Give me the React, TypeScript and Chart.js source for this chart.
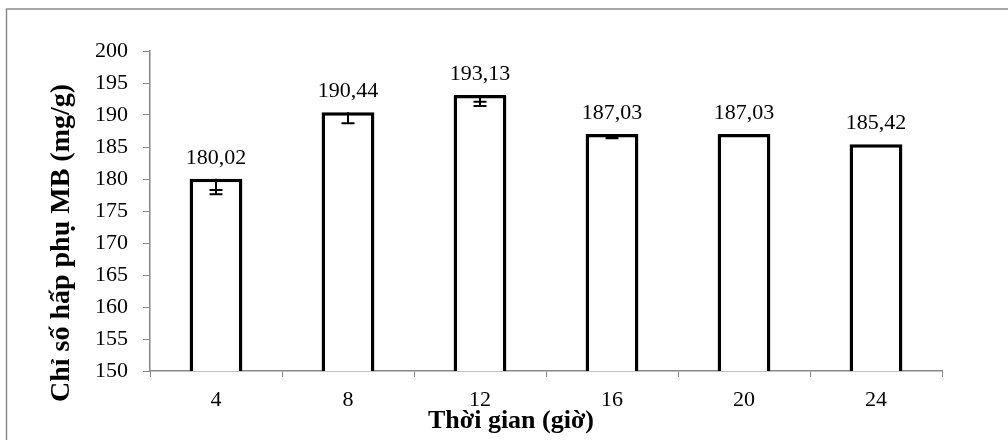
import React, { useEffect, useRef } from "react";
import { Chart, registerables } from "chart.js";

Chart.register(...registerables);

const categories = ["4", "8", "12", "16", "20", "24"];
const values = [180.02, 190.44, 193.13, 187.03, 187.03, 185.42];
const valueLabels = ["180,02", "190,44", "193,13", "187,03", "187,03", "185,42"];
const errInner = [1.74, 0, 1.05, 0.5, 0, 0];
const errOuter = [2.41, 1.74, 1.73, 0.67, 0, 0];
const yMin = 150;
const yMax = 200;
const yStep = 5;
const yTitle = "Chỉ số hấp phụ MB (mg/g)";
const xTitle = "Thời gian (giờ)";

const FONT = "'Liberation Serif', 'Times New Roman', serif";

const decorPlugin = {
  id: "decor",
  beforeDraw(chart: any) {
    const ctx = chart.ctx;
    ctx.save();
    ctx.fillStyle = "#ffffff";
    ctx.fillRect(0, 0, chart.width, chart.height);
    ctx.strokeStyle = "#8a8a8a";
    ctx.lineWidth = 1.5;
    ctx.strokeRect(6.5, 9, chart.width + 50, chart.height + 50);
    ctx.restore();
  },
  afterDatasetsDraw(chart: any) {
    const ctx = chart.ctx;
    const meta = chart.getDatasetMeta(0);
    const y = chart.scales.y;
    ctx.save();
    // error bars
    ctx.strokeStyle = "#000";
    ctx.lineWidth = 2;
    meta.data.forEach((bar: any, i: number) => {
      const top = y.getPixelForValue(values[i]);
      const caps = [errInner[i], errOuter[i]].filter((e) => e > 0);
      if (!caps.length) return;
      const lowest = Math.max(...caps);
      const yLow = y.getPixelForValue(values[i] - lowest);
      ctx.beginPath();
      ctx.moveTo(bar.x, top);
      ctx.lineTo(bar.x, yLow);
      caps.forEach((e) => {
        const yy = y.getPixelForValue(values[i] - e);
        ctx.moveTo(bar.x - 6.5, yy);
        ctx.lineTo(bar.x + 6.5, yy);
      });
      ctx.stroke();
    });
    // value labels
    ctx.fillStyle = "#000";
    ctx.font = `22px ${FONT}`;
    ctx.textAlign = "center";
    ctx.textBaseline = "alphabetic";
    meta.data.forEach((bar: any, i: number) => {
      ctx.fillText(valueLabels[i], bar.x, bar.y - 15);
    });
    // axis titles
    ctx.font = `bold 26px ${FONT}`;
    ctx.textBaseline = "middle";
    ctx.fillText(xTitle, 511, 421);
    ctx.font = `bold 28px ${FONT}`;
    ctx.save();
    ctx.translate(62, 243);
    ctx.rotate(-Math.PI / 2);
    ctx.fillText(yTitle, 0, 0);
    ctx.restore();
    ctx.restore();
  },
};

export default function App() {
  const ref = useRef<HTMLCanvasElement | null>(null);
  useEffect(() => {
    document.body.style.margin = "0";
    if (!ref.current) return;
    const chart = new Chart(ref.current, {
      type: "bar",
      data: {
        labels: categories,
        datasets: [
          {
            data: values,
            backgroundColor: "#ffffff",
            borderColor: "#000000",
            borderWidth: 3.5,
            borderSkipped: false,
            barPercentage: 0.4,
            categoryPercentage: 1,
          },
        ],
      },
      options: {
        animation: false,
        responsive: true,
        maintainAspectRatio: false,
        layout: { padding: { left: 0, top: 51, right: 66, bottom: 0 } },
        plugins: { legend: { display: false }, tooltip: { enabled: false } },
        scales: {
          x: {
            afterFit(scale: any) {
              scale.height = 69;
            },
            grid: {
              display: true,
              drawOnChartArea: false,
              drawTicks: true,
              tickLength: 6,
              color: "#888888",
              offset: true,
            },
            border: { display: true, color: "#888888", width: 1.5 },
            ticks: { color: "#000", font: { family: FONT, size: 22 }, padding: 10 },
          },
          y: {
            min: yMin,
            max: yMax,
            afterFit(scale: any) {
              scale.width = 150;
            },
            grid: {
              display: true,
              drawOnChartArea: false,
              drawTicks: true,
              tickLength: 7,
              color: "#888888",
            },
            border: { display: true, color: "#888888", width: 1.5 },
            ticks: {
              stepSize: yStep,
              color: "#000",
              font: { family: FONT, size: 22 },
              padding: 15,
            },
          },
        },
      },
      plugins: [decorPlugin],
    });
    return () => chart.destroy();
  }, []);
  return (
    <div style={{ width: 1008, height: 440, position: "relative" }}>
      <canvas ref={ref} />
    </div>
  );
}
